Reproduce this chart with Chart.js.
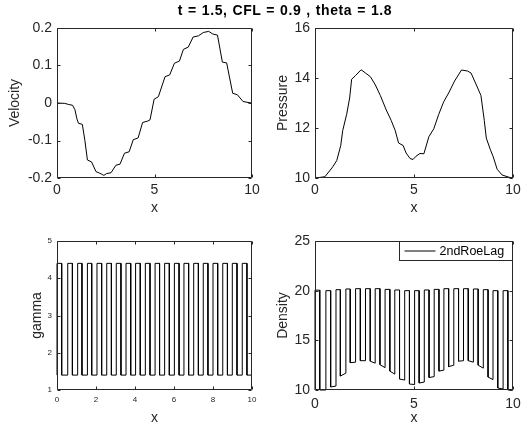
<!DOCTYPE html>
<html>
<head>
<meta charset="utf-8">
<script src="https://cdn.jsdelivr.net/npm/chart.js@4.4.1/dist/chart.umd.min.js"></script>
<style>
  html, body { margin: 0; padding: 0; background: #fff; }
  #wrap { position: relative; width: 522px; height: 427px; overflow: hidden; }
  canvas { position: absolute; left: 0; top: 0; }
  #title {
    position: absolute; left: 0; top: 3px; width: 570px; text-align: center;
    font: bold 14px "Liberation Sans", Arial, sans-serif; line-height: 14px;
    letter-spacing: 0.6px; word-spacing: 0.5px;
    color: #000; white-space: nowrap;
  }
</style>
</head>
<body>
<div id="wrap">
  <canvas id="velChart" width="522" height="427"></canvas>
  <canvas id="presChart" width="522" height="427"></canvas>
  <canvas id="gammaChart" width="522" height="427"></canvas>
  <canvas id="densChart" width="522" height="427"></canvas>
  <div id="title">t = 1.5, CFL = 0.9 , theta = 1.8</div>
</div>
<script>
// velocity (top left)
const velX = [0, 0.4, 0.6, 0.8, 0.92, 1.02, 1.1, 1.3, 1.43, 1.56,
  1.77, 2.0, 2.18, 2.3, 2.4, 2.55, 2.77, 3.02, 3.23, 3.46,
  3.7, 3.91, 4.16, 4.39, 4.66, 4.77, 4.98, 5.2, 5.54, 5.78,
  6.02, 6.28, 6.48, 6.73, 6.98, 7.25, 7.5, 7.78, 7.99, 8.23,
  8.48, 8.7, 9.01, 9.25, 9.54, 9.85, 10];
const velocity = [0, -0.001, -0.004, -0.006, -0.018, -0.042, -0.054, -0.057, -0.1, -0.152,
  -0.157, -0.183, -0.187, -0.19, -0.193, -0.188, -0.186, -0.166, -0.163, -0.134,
  -0.13, -0.098, -0.093, -0.052, -0.048, -0.045, 0.01, 0.017, 0.07, 0.075,
  0.106, 0.112, 0.143, 0.149, 0.176, 0.179, 0.188, 0.191, 0.184, 0.181,
  0.109, 0.107, 0.026, 0.022, 0.004, 0.001, 0];

// pressure (top right)
const presX = [0, 0.5, 0.9, 1.1, 1.3, 1.4, 1.6, 1.75, 1.85, 2.05,
  2.33, 2.55, 2.8, 3.05, 3.3, 3.6, 3.85, 4.05, 4.22, 4.45,
  4.6, 4.8, 4.95, 5.1, 5.3, 5.5, 5.75, 6.0, 6.25, 6.5,
  6.75, 7.05, 7.4, 7.7, 7.88, 8.15, 8.38, 8.55, 8.65, 8.85,
  9.0, 9.2, 9.45, 9.8, 10];
const pressure = [10, 10.05, 10.45, 10.7, 11.3, 11.9, 12.55, 13.2, 13.95, 14.1,
  14.33, 14.2, 14.05, 13.72, 13.3, 12.72, 12.3, 11.9, 11.4, 11.3,
  11.0, 10.78, 10.74, 10.87, 10.98, 10.97, 11.65, 11.97, 12.55, 13.05,
  13.4, 13.88, 14.32, 14.28, 14.2, 13.72, 13.3, 12.3, 11.6, 11.15,
  10.85, 10.35, 10.12, 10.03, 10];

// material interfaces, shared by gamma and density
const interfaceX = [0, 0.24, 0.55, 0.79, 1.06, 1.28, 1.56, 1.78, 2.05, 2.29,
  2.55, 2.79, 3.04, 3.28, 3.54, 3.78, 4.03, 4.27, 4.53, 4.77,
  5.03, 5.26, 5.52, 5.76, 6.02, 6.26, 6.51, 6.75, 7.01, 7.25,
  7.5, 7.74, 8.0, 8.24, 8.5, 8.74, 8.99, 9.23, 9.5, 9.74, 10];

// gamma per segment (bottom left)
const gammaLevels = [4.4, 1.4, 4.4, 1.4, 4.4, 1.4, 4.4, 1.4, 4.4, 1.4,
  4.4, 1.4, 4.4, 1.4, 4.4, 1.4, 4.4, 1.4, 4.4, 1.4,
  4.4, 1.4, 4.4, 1.4, 4.4, 1.4, 4.4, 1.4, 4.4, 1.4,
  4.4, 1.4, 4.4, 1.4, 4.4, 1.4, 4.4, 1.4, 4.4, 1.4];
const gammaLead = 1.4;

// density (bottom right): heavy layers and light layers (start/end of each)
const densHigh = [20.05, 20.0, 20.1, 20.17, 20.2, 20.2, 20.2, 20.13, 20.07, 20.0,
  20.0, 20.07, 20.13, 20.2, 20.2, 20.2, 20.17, 20.1, 20.0, 20.0];
const densLowStart = [10.0, 10.3, 11.4, 12.75, 12.95, 12.9, 12.55, 11.9, 11.1, 10.6,
  10.7, 11.25, 11.9, 12.35, 12.9, 12.95, 12.5, 11.3, 10.2, 10.0];
const densLowEnd = [10.0, 10.4, 11.7, 12.8, 12.95, 12.7, 12.25, 11.6, 11.0, 10.55,
  10.8, 11.35, 12.0, 12.5, 12.95, 12.8, 12.2, 11.05, 10.1, 10.0];
const densLead = 10;
const densLabel = '2ndRoeLag';

const xTicks = [0, 5, 10];
const gammaXTicks = [0, 2, 4, 6, 8, 10];
const velTicks = [-0.2, -0.1, 0, 0.1, 0.2];
const presTicks = [10, 12, 14, 16];
const gammaTicks = [1, 2, 3, 4, 5];
const densTicks = [10, 15, 20, 25];

const FONT = '"Liberation Sans", Arial, sans-serif';
const INK = '#262626';
const W = 522, H = 427;

function toPoints(xs, ys) {
  return xs.map((x, i) => ({ x: x, y: ys[i] }));
}

function stepPoints(edges, starts, ends, lead) {
  const pts = [{ x: edges[0], y: lead }];
  for (let i = 0; i < starts.length; i++) {
    pts.push({ x: edges[i], y: starts[i] }, { x: edges[i + 1], y: ends[i] });
  }
  return pts;
}

function interleave(a, b) {
  const out = [];
  a.forEach((v, i) => out.push(v, b[i]));
  return out;
}

// draws the matlab style box with inward ticks on all sides
const boxPlugin = {
  id: 'box',
  afterDatasetsDraw(chart, args, opts) {
    const { ctx, chartArea: a, scales } = chart;
    const len = opts.tick || 3;
    const L = Math.round(a.left) + 0.5, R = Math.round(a.right) - 0.5;
    const T = Math.round(a.top) + 0.5, B = Math.round(a.bottom) - 0.5;
    ctx.save();
    ctx.strokeStyle = INK;
    ctx.lineWidth = 1;
    ctx.beginPath();
    ctx.rect(L, T, R - L, B - T);
    scales.x.ticks.forEach(t => {
      const px = Math.round(scales.x.getPixelForValue(t.value)) + 0.5;
      ctx.moveTo(px, B); ctx.lineTo(px, B - len);
      ctx.moveTo(px, T); ctx.lineTo(px, T + len);
    });
    scales.y.ticks.forEach(t => {
      const py = Math.round(scales.y.getPixelForValue(t.value)) + 0.5;
      ctx.moveTo(L, py); ctx.lineTo(L + len, py);
      ctx.moveTo(R, py); ctx.lineTo(R - len, py);
    });
    ctx.stroke();
    ctx.restore();
  }
};

const legendBox = {
  id: 'legendBox',
  afterDraw(chart, args, o) {
    const { ctx, chartArea: a } = chart;
    const label = chart.data.datasets[0].label;
    const x = Math.round(a.right - o.width) - 0.5, y = Math.round(a.top) + 0.5;
    ctx.save();
    ctx.fillStyle = '#fff';
    ctx.fillRect(x, y, o.width, o.height);
    ctx.strokeStyle = INK;
    ctx.lineWidth = 1;
    ctx.strokeRect(x, y, o.width, o.height);
    ctx.strokeStyle = '#000';
    ctx.beginPath();
    ctx.moveTo(x + 5, Math.round(y + o.height / 2));
    ctx.lineTo(x + 36, Math.round(y + o.height / 2));
    ctx.stroke();
    ctx.fillStyle = '#000';
    ctx.font = '12.5px ' + FONT;
    ctx.textBaseline = 'middle';
    ctx.fillText(label, x + 40, y + o.height / 2 + 0.5);
    ctx.restore();
  }
};

function makeChart(id, c) {
  const half = 14 * 1.2 / 2;  // axis title half line height
  const yW = c.area[0] - (c.yTitleX - half);
  const xH = c.xTitleY + half - c.area[3];
  const pad = {
    left: c.yTitleX - half,
    top: c.area[1],
    right: W - c.area[2],
    bottom: H - (c.xTitleY + half)
  };
  const fix = (size, horiz) => (s) => {
    if (horiz) s.height = size; else s.width = size;
    s.paddingLeft = s.paddingRight = s.paddingTop = s.paddingBottom = 0;
  };
  const useTicks = (vals) => (s) => { s.ticks = vals.map(v => ({ value: v })); };
  const tickFont = { family: FONT, size: c.tickSize };
  const titleFont = { family: FONT, size: 14 };

  return new Chart(document.getElementById(id), {
    type: 'line',
    data: {
      datasets: [{
        label: c.label || '',
        data: c.points,
        borderColor: '#000',
        borderWidth: 1,
        pointRadius: 0,
        tension: 0,
        fill: false,
        clip: false
      }]
    },
    options: {
      responsive: false,
      animation: false,
      events: [],
      layout: { padding: pad },
      plugins: {
        legend: { display: false },
        tooltip: { enabled: false },
        box: { tick: 3 },
        legendBox: c.legend || false
      },
      scales: {
        x: {
          type: 'linear',
          min: c.xTicks[0],
          max: c.xTicks[c.xTicks.length - 1],
          afterFit: fix(xH, true),
          afterBuildTicks: useTicks(c.xTicks),
          grid: { display: false, drawTicks: false },
          border: { display: false },
          ticks: {
            padding: c.xPad, color: INK, font: tickFont,
            autoSkip: false, maxRotation: 0, callback: v => String(v)
          },
          title: { display: true, text: 'x', color: INK, font: titleFont, padding: 0 }
        },
        y: {
          type: 'linear',
          min: c.yTicks[0],
          max: c.yTicks[c.yTicks.length - 1],
          afterFit: fix(yW, false),
          afterBuildTicks: useTicks(c.yTicks),
          grid: { display: false, drawTicks: false },
          border: { display: false },
          ticks: {
            padding: 5, color: INK, font: tickFont,
            autoSkip: false, callback: v => String(v)
          },
          title: { display: true, text: c.yTitle, color: INK, font: titleFont, padding: 0 }
        }
      }
    },
    plugins: [boxPlugin, legendBox]
  });
}

makeChart('velChart', {
  points: toPoints(velX, velocity),
  area: [57, 28, 252, 178], yTitleX: 15, xTitleY: 208,
  xTicks: xTicks, yTicks: velTicks, tickSize: 14, xPad: 4, yTitle: 'Velocity'
});

makeChart('presChart', {
  points: toPoints(presX, pressure),
  area: [315, 28, 513, 178], yTitleX: 283.5, xTitleY: 208,
  xTicks: xTicks, yTicks: presTicks, tickSize: 14, xPad: 4, yTitle: 'Pressure'
});

makeChart('gammaChart', {
  points: stepPoints(interfaceX, gammaLevels, gammaLevels, gammaLead),
  area: [57, 241, 252, 390], yTitleX: 37, xTitleY: 418,
  xTicks: gammaXTicks, yTicks: gammaTicks, tickSize: 8, xPad: 5, yTitle: 'gamma'
});

makeChart('densChart', {
  label: densLabel,
  points: stepPoints(interfaceX, interleave(densHigh, densLowStart), interleave(densHigh, densLowEnd), densLead),
  area: [315, 241, 513, 390], yTitleX: 283.5, xTitleY: 418,
  xTicks: xTicks, yTicks: densTicks, tickSize: 14, xPad: 5.5, yTitle: 'Density',
  legend: { width: 113, height: 19 }
});
</script>
</body>
</html>
